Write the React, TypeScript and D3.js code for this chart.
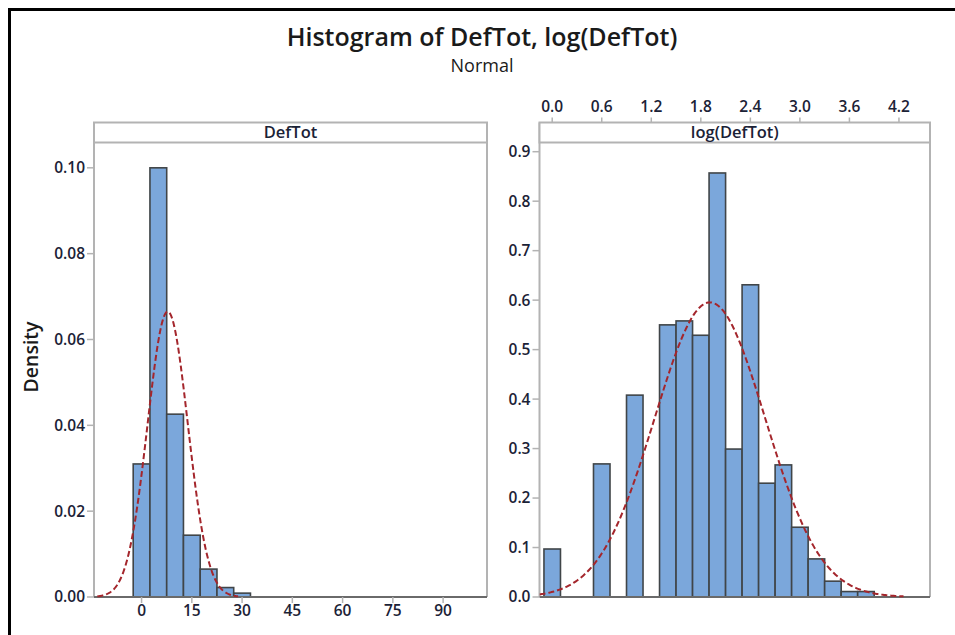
import React from "react";
import * as d3 from "d3";

// ---------- data ----------
const defTotBinCenters = [0, 5, 10, 15, 20, 25, 30];
const defTotDensity = [0.031, 0.1, 0.0426, 0.0144, 0.0065, 0.0022, 0.0009];
const defTotBinWidth = 5;
const defTotMean = 7.8;
const defTotSd = 6.0;

const logBinCenters = [0.0, 0.6, 1.0, 1.4, 1.6, 1.8, 2.0, 2.2, 2.4, 2.6, 2.8, 3.0, 3.2, 3.4, 3.6, 3.8];
const logDensity = [0.097, 0.269, 0.408, 0.55, 0.558, 0.529, 0.857, 0.299, 0.631, 0.23, 0.267, 0.141, 0.077, 0.032, 0.011, 0.011];
const logBinWidth = 0.2;
const logMean = 1.91;
const logSd = 0.67;

const leftXTicks = [0, 15, 30, 45, 60, 75, 90];
const leftYTicks = [0, 0.02, 0.04, 0.06, 0.08, 0.1];
const rightXTicks = [0, 0.6, 1.2, 1.8, 2.4, 3.0, 3.6, 4.2];
const rightYTicks = [0, 0.1, 0.2, 0.3, 0.4, 0.5, 0.6, 0.7, 0.8, 0.9];

const title = "Histogram of DefTot, log(DefTot)";
const subtitle = "Normal";
const leftHeader = "DefTot";
const rightHeader = "log(DefTot)";
const yLabel = "Density";

// ---------- style ----------
const W = 955;
const H = 635;
const FONT = "'Open Sans', 'Noto Sans', sans-serif";
const BAR_FILL = "#7ba7db";
const BAR_STROKE = "#404548";
const CURVE = "#a4262c";
const BORDER = "#b3b3b3";
const TEXT = "#1b2236";
const TICK_FS = 15.5;

const panelTop = 122.5;
const headerBottom = 142.5;
const plotBottom = 597;

function normalPdf(x: number, m: number, s: number) {
  return Math.exp(-0.5 * ((x - m) / s) ** 2) / (s * Math.sqrt(2 * Math.PI));
}

type PanelProps = {
  id: string;
  x0: number;
  x1: number;
  xDomain: [number, number];
  yDomain: [number, number];
  centers: number[];
  dens: number[];
  binW: number;
  mean: number;
  sd: number;
  xTicks: number[];
  yTicks: number[];
  xFmt: (v: number) => string;
  yFmt: (v: number) => string;
  xAxisTop: boolean;
  header: string;
};

function Panel(p: PanelProps) {
  const x = d3.scaleLinear().domain(p.xDomain).range([p.x0, p.x1]);
  const y = d3.scaleLinear().domain(p.yDomain).range([plotBottom, headerBottom]);
  const n = 300;
  const lo = Math.max(p.mean - 3.5 * p.sd, p.xDomain[0]);
  const hi = Math.min(p.mean + 3.5 * p.sd, p.xDomain[1]);
  const pts = d3.range(n + 1).map((i) => lo + ((hi - lo) * i) / n);
  const line = d3
    .line<number>()
    .x((v) => x(v))
    .y((v) => y(normalPdf(v, p.mean, p.sd)))
    .curve(d3.curveLinear);
  return (
    <g>
      <defs>
        <clipPath id={p.id}>
          <rect x={p.x0} y={headerBottom} width={p.x1 - p.x0} height={plotBottom - headerBottom + 1} />
        </clipPath>
      </defs>
      <rect x={p.x0} y={panelTop} width={p.x1 - p.x0} height={plotBottom - panelTop} fill="#fff" />
      <g clipPath={`url(#${p.id})`}>
        {p.centers.map((c, i) => (
          <rect
            key={i}
            x={x(c - p.binW / 2)}
            y={y(p.dens[i])}
            width={x(c + p.binW / 2) - x(c - p.binW / 2)}
            height={plotBottom - y(p.dens[i])}
            fill={BAR_FILL}
            stroke={BAR_STROKE}
            strokeWidth={1.6}
          />
        ))}
      </g>
      {/* borders */}
      <line x1={p.x0} x2={p.x0} y1={panelTop} y2={plotBottom} stroke={BORDER} strokeWidth={2} />
      <line x1={p.x1} x2={p.x1} y1={panelTop} y2={plotBottom} stroke={BORDER} strokeWidth={2} />
      <line x1={p.x0} x2={p.x1} y1={plotBottom} y2={plotBottom} stroke="#6a6a6a" strokeWidth={2} />
      <g clipPath={`url(#${p.id})`}>
        <path d={line(pts) || ""} fill="none" stroke={CURVE} strokeWidth={2} strokeDasharray="6,3" />
      </g>
      {/* header */}
      <rect x={p.x0} y={panelTop} width={p.x1 - p.x0} height={headerBottom - panelTop} fill="#fff" stroke={BORDER} strokeWidth={2} />
      <text
        x={(p.x0 + p.x1) / 2}
        y={(panelTop + headerBottom) / 2}
        dy="0.35em"
        textAnchor="middle"
        fontFamily={FONT}
        fontSize={16.5}
        fontWeight={600}
        fill={TEXT}
      >
        {p.header}
      </text>
      {/* y axis */}
      {p.yTicks.map((t) => (
        <g key={"y" + t}>
          <line x1={p.x0 - 7} x2={p.x0} y1={y(t)} y2={y(t)} stroke={BORDER} strokeWidth={1.5} />
          <text
            x={p.x0 - 9}
            y={y(t)}
            dy="0.35em"
            textAnchor="end"
            fontFamily={FONT}
            fontSize={TICK_FS}
            fontWeight={600}
            fill={TEXT}
          >
            {p.yFmt(t)}
          </text>
        </g>
      ))}
      {/* x axis */}
      {p.xTicks.map((t) =>
        p.xAxisTop ? (
          <g key={"x" + t}>
            <line x1={x(t)} x2={x(t)} y1={panelTop - 5} y2={panelTop} stroke={BORDER} strokeWidth={1.5} />
            <text
              x={x(t)}
              y={107}
              dy="0.35em"
              textAnchor="middle"
              fontFamily={FONT}
              fontSize={TICK_FS}
              fontWeight={600}
              fill={TEXT}
            >
              {p.xFmt(t)}
            </text>
          </g>
        ) : (
          <g key={"x" + t}>
            <line x1={x(t)} x2={x(t)} y1={plotBottom} y2={plotBottom + 6} stroke={BORDER} strokeWidth={1.5} />
            <text
              x={x(t)}
              y={611}
              dy="0.35em"
              textAnchor="middle"
              fontFamily={FONT}
              fontSize={TICK_FS}
              fontWeight={600}
              fill={TEXT}
            >
              {p.xFmt(t)}
            </text>
          </g>
        )
      )}
    </g>
  );
}

export default function App() {
  return (
    <svg
      width={W}
      height={H}
      style={{ position: "absolute", left: 0, top: 0, background: "#fff" }}
    >
      <rect x={0} y={0} width={W} height={H} fill="#fff" />
      <path d={`M9.5,${H} L9.5,9.5 L${W},9.5`} fill="none" stroke="#000" strokeWidth={3} />
      <text x={482} y={37} dy="0.35em" textAnchor="middle" fontFamily={FONT} fontSize={25} fontWeight={600} fill="#1a1a1a">
        {title}
      </text>
      <text x={482} y={66} dy="0.35em" textAnchor="middle" fontFamily={FONT} fontSize={18} fill="#1a1a1a">
        {subtitle}
      </text>
      <text
        transform={`translate(31,357) rotate(-90)`}
        textAnchor="middle"
        dy="0.35em"
        fontFamily={FONT}
        fontSize={19.5}
        fontWeight={600}
        fill="#1a1a1a"
      >
        {yLabel}
      </text>
      <Panel
        id="clipL"
        x0={94}
        x1={487}
        xDomain={[-14.2, 103.1]}
        yDomain={[0, 0.1059]}
        centers={defTotBinCenters}
        dens={defTotDensity}
        binW={defTotBinWidth}
        mean={defTotMean}
        sd={defTotSd}
        xTicks={leftXTicks}
        yTicks={leftYTicks}
        xFmt={d3.format("d")}
        yFmt={d3.format(".2f")}
        xAxisTop={false}
        header={leftHeader}
      />
      <Panel
        id="clipR"
        x0={539.5}
        x1={930}
        xDomain={[-0.154, 4.576]}
        yDomain={[0, 0.9186]}
        centers={logBinCenters}
        dens={logDensity}
        binW={logBinWidth}
        mean={logMean}
        sd={logSd}
        xTicks={rightXTicks}
        yTicks={rightYTicks}
        xFmt={d3.format(".1f")}
        yFmt={d3.format(".1f")}
        xAxisTop={true}
        header={rightHeader}
      />
    </svg>
  );
}
